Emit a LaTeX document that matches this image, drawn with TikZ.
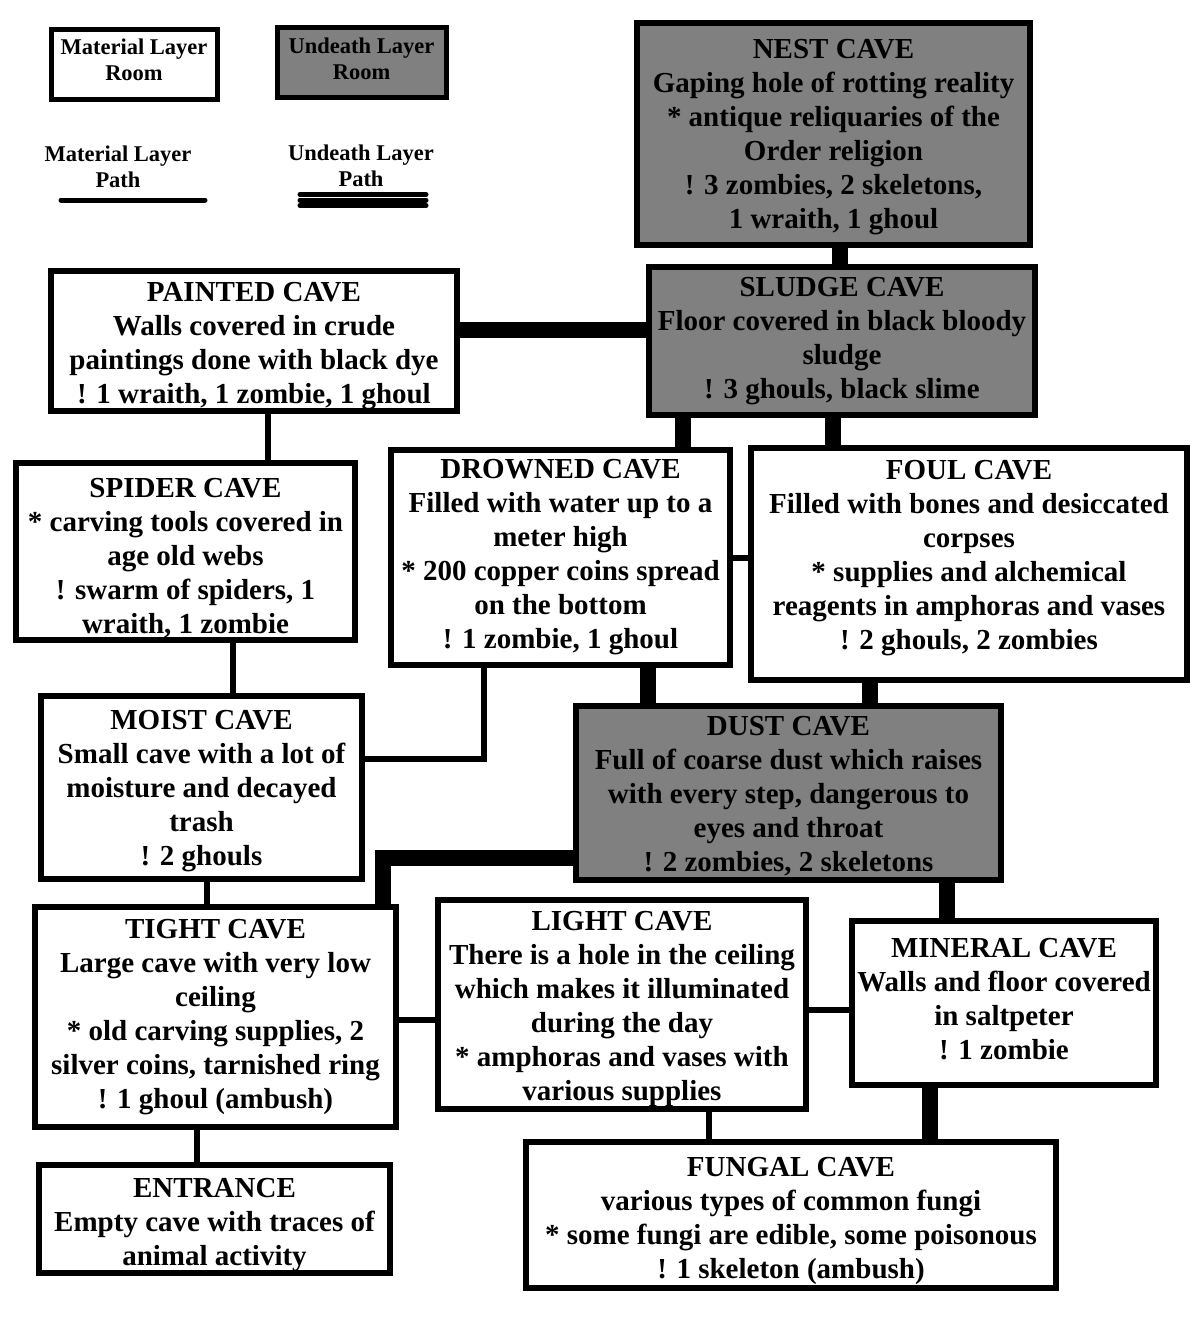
\documentclass[tikz,border=0pt]{standalone}
\usepackage{fontspec}
\setmainfont{Liberation Serif}
\definecolor{deadgray}{RGB}{128,128,128}
% nudge the text block inside a box
\newcommand{\pushdown}[1]{\rule{0pt}{#1pt}}
\newcommand{\pushup}[1]{\rule[-#1pt]{0pt}{#1pt}}
\tikzset{
  room/.style 2 args={draw, line width=6pt, align=center, inner sep=0pt, outer sep=0pt,
    minimum width=#1, minimum height=#2, font=\fontsize{29}{34}\selectfont\bfseries},
  deadroom/.style 2 args={room={#1}{#2}, fill=deadgray},
  legendroom/.style 2 args={room={#1}{#2}, line width=5pt, font=\fontsize{22.5}{26}\selectfont\bfseries},
  legendtext/.style={align=center, inner sep=0pt, font=\fontsize{22.5}{26}\selectfont\bfseries},
  matpath/.style={line width=6pt},
  deadpath/.style={line width=16pt},
}

\begin{document}
\begin{tikzpicture}[x=1pt, y=-1pt, line join=miter]
\useasboundingbox (0,0) rectangle (1200,1334);

% legend
\node[legendroom={166pt}{70pt}] (legmat) at (134,64) {Material Layer\\Room\pushup{8}};
\node[legendroom={169pt}{70pt}, fill=deadgray] (legdead) at (361.5,62) {Undeath Layer\\Room\pushup{6}};
\node[legendtext] (legmatpath) at (118,167) {Material Layer\\Path};
\node[legendtext] (legdeadpath) at (361,166) {Undeath Layer\\Path};
\draw[line width=5pt, line cap=round] (61,200) -- (205,200);
\foreach \yy in {194.5,200,205.5}
  \draw[line width=5pt, line cap=round] (300,\yy) -- (426,\yy);

%---------------------------------------------------------------------------------------------------
% rooms
\node[deadroom={393pt}{222pt}] (nest) at (833.5,134)
  {\pushdown{25}NEST CAVE\\Gaping hole of rotting reality\\* antique reliquaries of the\\Order religion\\! 3 zombies, 2 skeletons,\\1 wraith, 1 ghoul};
\node[deadroom={386pt}{148pt}] (sludge) at (842,341)
  {SLUDGE CAVE\\Floor covered in black bloody\\sludge\\! 3 ghouls, black slime};
\node[room={406pt}{140pt}] (painted) at (254,341)
  {\pushdown{29}PAINTED CAVE\\Walls covered in crude\\paintings done with black dye\\! 1 wraith, 1 zombie, 1 ghoul};
\node[room={339pt}{177pt}] (spider) at (185.5,551.5)
  {\pushdown{33}SPIDER CAVE\\* carving tools covered in\\age old webs\\! swarm of spiders, 1\\wraith, 1 zombie};
\node[room={339pt}{215pt}] (drowned) at (560.5,557.5)
  {DROWNED CAVE\\Filled with water up to a\\meter high\\* 200 copper coins spread\\on the bottom\\! 1 zombie, 1 ghoul};
\node[room={436pt}{232pt}] (foul) at (969,564)
  {FOUL CAVE\\Filled with bones and desiccated\\corpses\\* supplies and alchemical\\reagents in amphoras and vases\\! 2 ghouls, 2 zombies\pushup{18}};
\node[room={321pt}{183pt}] (moist) at (201.5,787.5)
  {\pushdown{27}MOIST CAVE\\Small cave with a lot of\\moisture and decayed\\trash\\! 2 ghouls};
\node[deadroom={425pt}{174pt}] (dust) at (788.5,793)
  {\pushdown{25}DUST CAVE\\Full of coarse dust which raises\\with every step, dangerous to\\eyes and throat\\! 2 zombies, 2 skeletons};
\node[room={361pt}{220pt}] (tight) at (215.5,1017)
  {TIGHT CAVE\\Large cave with very low\\ceiling\\* old carving supplies, 2\\silver coins, tarnished ring\\! 1 ghoul (ambush)};
\node[room={368pt}{209pt}] (light) at (622,1004.5)
  {\pushdown{29}LIGHT CAVE\\There is a hole in the ceiling\\which makes it illuminated\\during the day\\* amphoras and vases with\\various supplies};
\node[room={304pt}{164pt}] (mineral) at (1004,1003)
  {MINERAL CAVE\\Walls and floor covered\\in saltpeter\\! 1 zombie\pushup{8}};
\node[room={530pt}{146pt}] (fungal) at (791,1215)
  {\pushdown{31}FUNGAL CAVE\\various types of common fungi\\* some fungi are edible, some poisonous\\! 1 skeleton (ambush)};
\node[room={351pt}{108pt}] (entrance) at (214.5,1219)
  {\pushdown{31}ENTRANCE\\Empty cave with traces of\\animal activity};

%---------------------------------------------------------------------------------------------------
% undeath layer paths
\draw[deadpath] ([xshift=6]nest.south) -- ([xshift=6]nest.south |- sludge.north);
\draw[deadpath] ([yshift=11]painted.east) -- ([yshift=11]painted.east -| sludge.west);
\draw[deadpath] ([xshift=122]drowned.north) -- ([xshift=122]drowned.north |- sludge.south);
\draw[deadpath] ([xshift=-9]sludge.south) -- ([xshift=-9]sludge.south |- foul.north);
\draw[deadpath] ([xshift=87]drowned.south) -- ([xshift=87]drowned.south |- dust.north);
\draw[deadpath] ([xshift=-99]foul.south) -- ([xshift=-99]foul.south |- dust.north);
\draw[deadpath] ([yshift=-65]dust.west) -| ([xshift=167]tight.north);
\draw[deadpath] ([xshift=-57]mineral.north) -- ([xshift=-57]mineral.north |- dust.south);
\draw[deadpath] ([xshift=-74]mineral.south) -- ([xshift=-74]mineral.south |- fungal.north);

% material layer paths
\draw[matpath] ([xshift=14]painted.south) -- ([xshift=14]painted.south |- spider.north);
\draw[matpath] (drowned.east) -- (drowned.east -| foul.west);
\draw[matpath] ([xshift=47]spider.south) -- ([xshift=47]spider.south |- moist.north);
\draw[matpath] ([xshift=-77]drowned.south) |- ([yshift=29]moist.east);
\draw[matpath] ([xshift=5]moist.south) -- ([xshift=5]moist.south |- tight.north);
\draw[matpath] ([yshift=-3]tight.east) -- ([yshift=-3]tight.east -| light.west);
\draw[matpath] ([yshift=-5]light.east) -- ([yshift=-5]light.east -| mineral.west);
\draw[matpath] ([xshift=87]light.south) -- ([xshift=87]light.south |- fungal.north);
\draw[matpath] ([xshift=-19]tight.south) -- ([xshift=-19]tight.south |- entrance.north);

\end{tikzpicture}
\end{document}
